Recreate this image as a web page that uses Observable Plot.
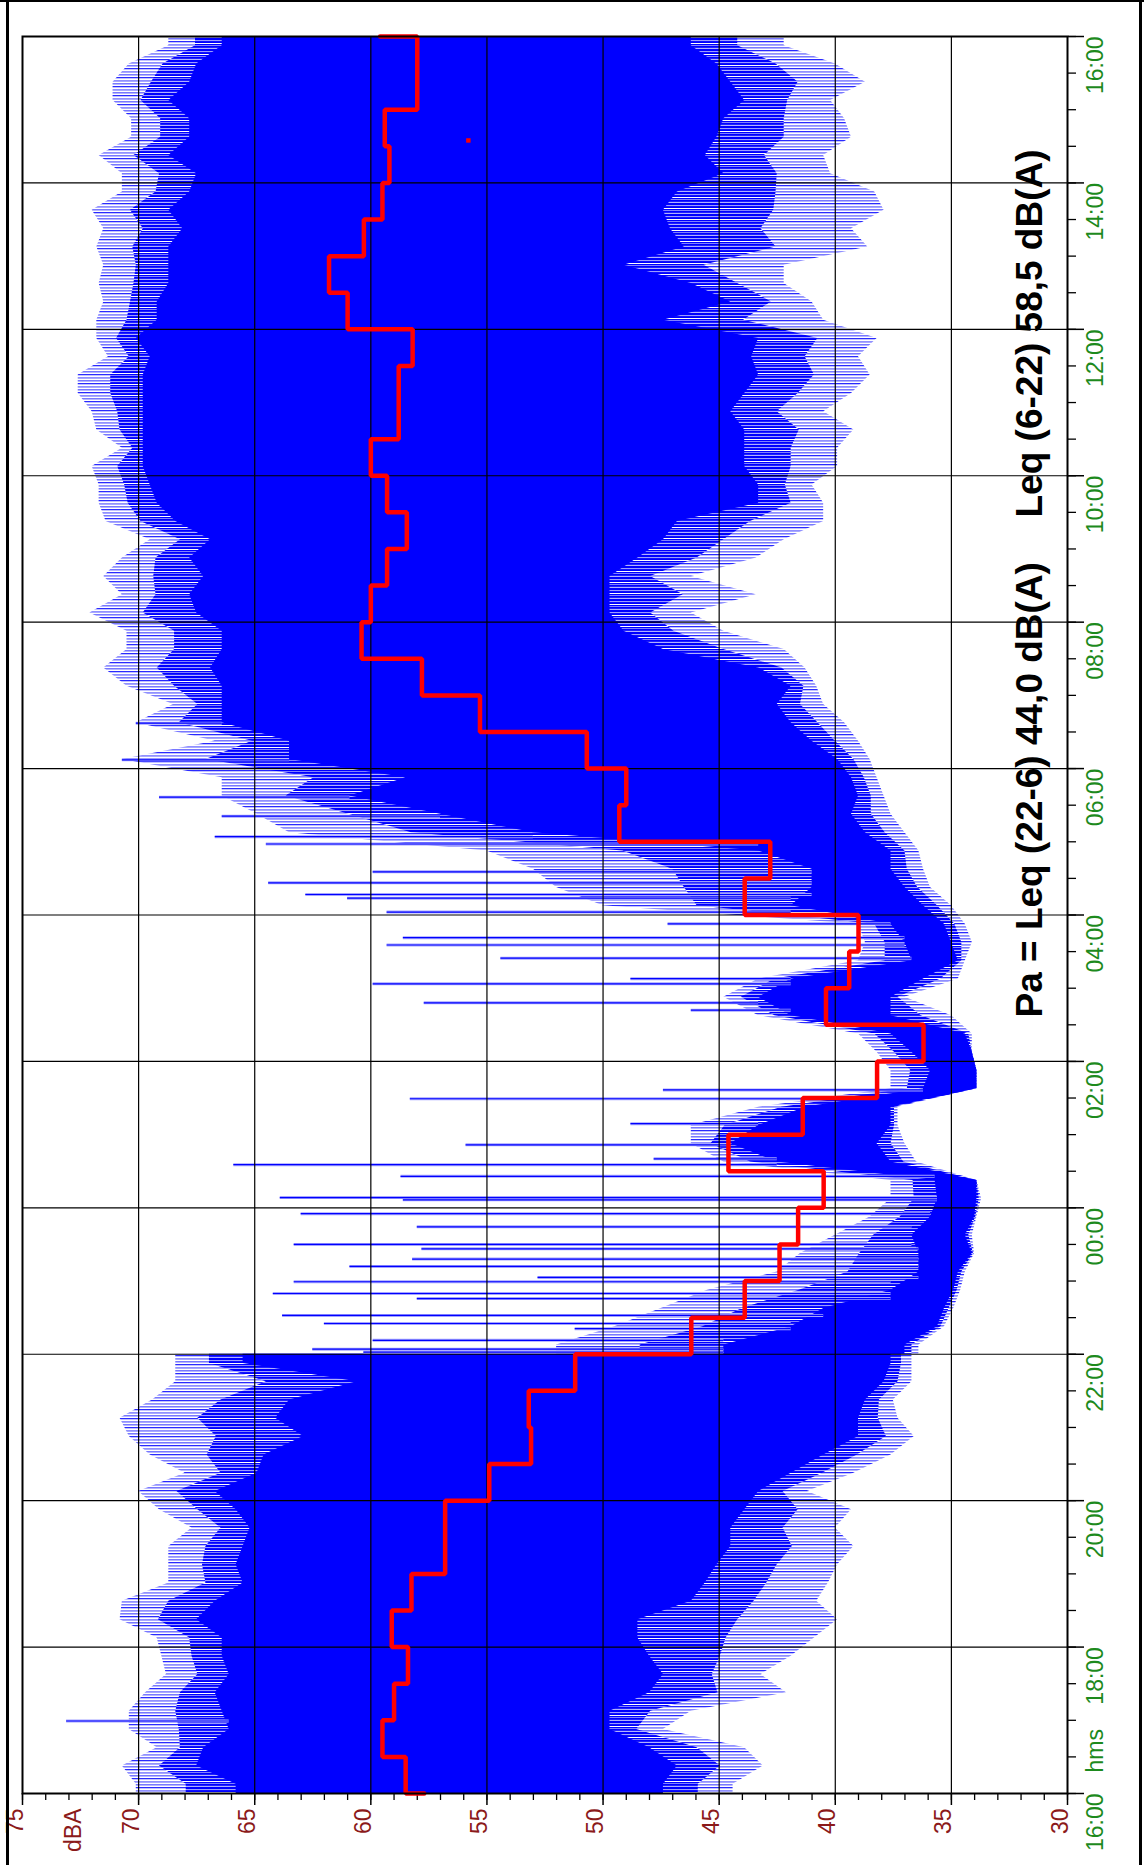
<!DOCTYPE html>
<html><head><meta charset="utf-8">
<script src="https://cdn.jsdelivr.net/npm/d3@7"></script>
<script src="https://cdn.jsdelivr.net/npm/@observablehq/plot@0.6"></script>
<style>
html,body{margin:0;padding:0;background:#fff;}
#wrap{position:relative;width:1144px;height:1865px;overflow:hidden;background:#fff;}
#chart{position:absolute;left:0;top:0;}
.b{position:absolute;background:#000;}
</style></head><body>
<div id="wrap">
<div id="chart"></div>
<div class="b" style="left:0;top:0;width:1144px;height:2px"></div>
<div class="b" style="left:6px;top:0;width:3px;height:1865px"></div>
<div class="b" style="left:1139px;top:0;width:3px;height:1865px"></div>
</div>
<script>
// ---- data (hours since 16:00, dB(A)) ----
// sample grid: start edge, centres of 15-minute bins, end edge
const sampleTimes = [0, ...d3.range(96).map(i => i * 0.25 + 0.125), 24];

// outer extent of the trace (highest level reached)
const outerHi = [70.1,
 70.1, 70.7, 69.2, 70.4, 70.4, 69.7, 68.8, 69.0, 69.2, 70.8, 70.7, 68.7, 68.7, 68.7, 67.7, 69.1,
 70.0, 68.0, 69.5, 70.4, 70.8, 69.4, 68.4, 68.4,
 52.0, 49.5, 47.5, 45.5, 42.5, 41.5, 40.0, 38.5,
 37.6, 37.6, 44.8, 46.2, 46.2, 43.3, 37.6, 37.6,
 38.2, 39.0, 43.3, 44.8, 43.3, 39.0, 38.7, 39.0,
 50.0, 52.0, 53.0, 55.0, 63.5, 64.9, 66.4, 66.4,
 70.7, 66.7, 70.1, 68.5, 70.5, 71.5, 70.5, 70.5,
 72.1, 70.7, 71.5, 70.7, 69.5, 71.4, 71.7, 71.7,
 72.0, 70.7, 71.8, 72.0, 72.6, 72.6, 71.3, 71.8,
 71.8, 71.5, 71.7, 71.5, 71.8, 71.5, 72.0, 70.7,
 70.7, 71.7, 70.3, 70.3, 71.1, 71.1, 70.4, 68.7,
 68.7];
// dense core, upper edge
const coreHi = [65.8,
 65.8, 67.5, 67.2, 66.1, 66.4, 66.7, 66.1, 66.4, 66.4, 67.5, 66.7, 65.5, 65.8, 65.5, 65.2, 65.8,
 66.7, 64.9, 64.6, 62.9, 64.1, 63.5, 60.6, 65.5,
 44.8, 41.9, 40.5, 37.6, 36.4, 36.4, 36.7, 35.9,
 35.6, 35.7, 42.5, 44.5, 43.3, 41.3, 36.2, 35.9,
 36.7, 37.6, 41.9, 43.3, 41.9, 36.7, 37.0, 37.6,
 41.9, 41.0, 41.0, 43.3, 53.0, 57.0, 60.9, 58.5,
 63.5, 63.5, 66.4, 66.4, 66.4, 66.9, 66.4, 66.4,
 67.5, 67.8, 67.2, 67.8, 66.9, 68.4, 69.2, 69.5,
 69.8, 69.8, 69.8, 69.8, 69.8, 69.8, 69.5, 70.1,
 69.2, 69.2, 68.7, 68.7, 68.7, 68.1, 68.7, 67.8,
 67.5, 68.7, 67.8, 67.8, 68.7, 67.8, 67.5, 66.4,
 66.4];
// dense core, lower edge
const coreLo = [47.4,
 47.4, 46.8, 48.0, 49.7, 49.7, 48.0, 47.4, 48.0, 48.5, 48.5, 46.2, 45.6, 45.1, 44.5, 44.5, 43.9,
 43.3, 41.9, 40.5, 39.0, 39.0, 38.7, 37.9, 37.6,
 37.0, 35.6, 35.3, 34.9, 34.7, 34.1, 34.4, 34.0,
 33.9, 33.9, 37.6, 38.2, 37.6, 37.6, 33.9, 33.9,
 34.1, 34.4, 37.6, 37.6, 36.2, 34.7, 35.0, 35.3,
 36.2, 37.0, 37.6, 37.6, 38.7, 39.3, 39.0, 39.3,
 39.9, 41.0, 41.9, 42.5, 41.9, 43.3, 47.4, 49.1,
 49.7, 49.7, 49.7, 48.5, 47.4, 46.8, 43.3, 43.3,
 43.9, 43.9, 43.9, 44.5, 43.9, 43.3, 43.6, 43.3,
 47.4, 44.5, 46.2, 49.1, 46.5, 47.1, 47.4, 46.8,
 44.8, 45.6, 45.1, 44.8, 43.9, 44.5, 45.1, 46.2,
 46.2];
// outer extent of the trace (lowest level reached)
const outerLo = [44.4,
 44.4, 43.1, 43.9, 47.4, 46.2, 42.1, 43.2, 41.9, 40.9, 39.9, 40.8, 40.3, 39.9, 39.2, 40.0, 39.3,
 41.2, 39.2, 37.6, 36.6, 37.3, 37.5, 36.7, 36.7,
 36.4, 35.3, 34.9, 34.6, 34.4, 34.0, 34.1, 33.9,
 33.7, 33.9, 36.5, 37.0, 37.3, 37.3, 33.9, 33.9,
 34.1, 34.1, 35.0, 37.0, 34.7, 34.4, 34.1, 34.4,
 35.0, 35.9, 36.2, 36.4, 37.0, 37.6, 37.9, 38.2,
 38.5, 39.0, 39.6, 40.5, 40.8, 41.3, 42.2, 44.8,
 46.2, 43.4, 46.2, 43.4, 42.2, 40.5, 40.5, 41.0,
 39.9, 39.9, 39.2, 40.5, 39.3, 38.5, 39.0, 38.2,
 40.5, 41.0, 42.2, 42.2, 38.6, 39.3, 37.9, 38.3,
 40.2, 40.5, 39.3, 39.6, 40.2, 38.7, 40.0, 42.2,
 42.2];
// the trace changes abruptly at 22:00 (t = 6)
const nightStart = 6;

// isolated loud events (time, peak level)
const spikeTimes = [0.99, 6.03, 6.07, 6.19, 6.35, 6.42, 6.53, 6.76, 6.83, 6.99, 7.05, 7.20, 7.30, 7.44, 7.50, 7.74, 7.92,
  8.11, 8.14, 8.43, 8.59, 8.67, 8.86, 9.15, 9.49, 9.61, 10.70, 10.80, 11.06, 11.13, 11.41, 11.59, 11.69, 11.88,
  12.04, 12.23, 12.28, 12.44, 12.59, 12.97, 13.07, 13.35, 13.61, 14.12, 14.62];
const spikeLevels = [73.1, 60.3, 62.5, 59.9, 51.2, 62.0, 63.8, 58.0, 64.2, 63.3, 52.8, 60.9, 58.2, 57.8, 63.3, 58.0, 63.0,
  58.6, 63.9, 58.7, 65.9, 47.8, 55.9, 48.8, 58.3, 47.4, 46.2, 57.7, 59.9, 48.8, 54.4, 59.3, 58.6, 47.2,
  59.3, 61.0, 62.8, 64.4, 59.9, 64.5, 66.7, 66.4, 69.1, 70.7, 70.1];

// half-hourly Leq (red step line)
const leqTimes = d3.range(0, 24, 0.5);
const leqValues = [58.5, 59.5, 59.0, 58.4, 59.1, 58.25, 56.8, 56.8, 54.9, 53.1, 53.2, 51.2,
  46.2, 43.9, 42.4, 41.6, 40.5, 44.6, 41.4, 38.2, 36.2, 40.4, 39.4, 39.0,
  43.9, 42.8, 49.3, 49.0, 50.7, 55.3, 57.8, 60.4, 60.0, 59.3, 58.45, 59.3,
  60.0, 58.8, 58.8, 58.2, 61.0, 61.8, 60.3, 59.5, 59.2, 59.4, 58.0, 58.0];
const leqStart = 57.7, leqEnd = 59.6;
const markerT = [22.58], markerDb = [55.8];

// axes
const dbTicks = [75, 70, 65, 60, 55, 50, 45, 40, 35, 30];
const dbGrid = [70, 65, 60, 55, 50, 45, 40, 35];
const dbMinor = d3.range(30, 76, 1);
const timeTicks = [0, 2, 4, 6, 8, 10, 12, 14, 16, 18, 20, 22, 24];
const timeLabels = ["16:00", "18:00", "20:00", "22:00", "00:00", "02:00", "04:00", "06:00", "08:00", "10:00", "12:00", "14:00", "16:00"];
const timeMinor = d3.range(0, 24.01, 0.5);
const titleParts = ["Pa = Leq (22-6) 44,0 dB(A)", "Leq (6-22) 58,5 dB(A)"];

// ---- build ----
const samples = sampleTimes.map((t, i) => ({
  t, outerHi: outerHi[i], coreHi: coreHi[i], coreLo: coreLo[i], outerLo: outerLo[i],
  midHi: (outerHi[i] + coreHi[i]) / 2, midLo: (outerLo[i] + coreLo[i]) / 2
}));
// hold the last evening reading and the first night reading up to the 22:00 boundary
const k = samples.findIndex(d => d.t > nightStart);
samples.splice(k, 0, {...samples[k - 1], t: nightStart}, {...samples[k], t: nightStart});

const bis = d3.bisector(d => d.t).center;
const spikes = spikeTimes.map((t, i) => ({t, db: spikeLevels[i], base: samples[bis(samples, t)].coreHi}));
const leqPath = [{t: 0, v: leqStart}];
leqTimes.forEach((t, i) => { leqPath.push({t, v: leqValues[i]}, {t: t + 0.5, v: leqValues[i]}); });
leqPath.push({t: 24, v: leqEnd});

const RED = "#8b1a1a", GREEN = "#1d8a1d";
const LABEL_FONT = "'Liberation Sans', Arial, sans-serif";

const chart = Plot.plot({
  width: 1144, height: 1865,
  marginLeft: 22, marginRight: 77, marginTop: 36, marginBottom: 72,
  style: {fontFamily: LABEL_FONT, background: "white", overflow: "visible"},
  x: {domain: [75, 30]},
  y: {domain: [0, 24]},
  marks: [
    Plot.areaX(samples, {y: "t", x1: "outerLo", x2: "outerHi", fill: "#010101"}),
    Plot.areaX(samples, {y: "t", x1: "midLo", x2: "midHi", fill: "#020202"}),
    Plot.areaX(samples, {y: "t", x1: "coreLo", x2: "coreHi", fill: "#0000ff"}),
    Plot.ruleY(spikes, {y: "t", x1: "base", x2: "db", stroke: "#a4a4ff", strokeWidth: 3}),
    Plot.ruleY(spikes, {y: "t", x1: "base", x2: "db", stroke: "#0000ff", strokeWidth: 1.2}),
    Plot.ruleX(dbGrid, {stroke: "#000", strokeWidth: 1.2}),
    Plot.ruleY(timeTicks.slice(1, -1), {stroke: "#000", strokeWidth: 1.2}),
    Plot.axisX({anchor: "bottom", ticks: dbMinor, tickSize: 7, tickFormat: () => "", label: null, strokeWidth: 1.3}),
    Plot.axisX({anchor: "bottom", ticks: dbTicks, tickSize: 12, tickFormat: () => "", label: null, strokeWidth: 1.5}),
    Plot.axisY({anchor: "right", ticks: timeMinor, tickSize: 8, tickFormat: () => "", label: null, strokeWidth: 1.3}),
    Plot.axisY({anchor: "right", ticks: timeTicks, tickSize: 16, tickFormat: () => "", label: null, strokeWidth: 1.5}),
    Plot.line(leqPath, {x: "v", y: "t", stroke: "#ff0000", strokeWidth: 4.5, strokeLinejoin: "miter"}),
    Plot.dot(markerT, {y: d => d, x: (d, i) => markerDb[i], symbol: "square", r: 2.5, fill: "#ff0000"}),
    Plot.frame({stroke: "#000", strokeWidth: 2}),
    Plot.text(dbTicks, {x: d => d, frameAnchor: "bottom", text: d => String(d), rotate: -90, textAnchor: "end", dy: 15, fill: RED, fontSize: 23, fontFamily: LABEL_FONT}),
    Plot.text(["dBA"], {x: 72.5, frameAnchor: "bottom", text: d => d, rotate: -90, textAnchor: "end", dy: 15, fill: RED, fontSize: 23, fontFamily: LABEL_FONT}),
    Plot.text(timeTicks, {y: d => d, frameAnchor: "right", text: (d, i) => timeLabels[i], rotate: -90, dx: 28, fill: GREEN, fontSize: 23, fontFamily: LABEL_FONT}),
    Plot.text(["hms"], {y: 0.88, frameAnchor: "right", text: d => d, rotate: -90, dx: 28, fill: GREEN, fontSize: 23, fontFamily: LABEL_FONT}),
    Plot.text([titleParts[0]], {x: 31.6, y: 10.6, text: d => d, rotate: -90, textAnchor: "start", fontSize: 37, fontWeight: "bold", fill: "#000"}),
    Plot.text([titleParts[1]], {x: 31.6, y: 17.43, text: d => d, rotate: -90, textAnchor: "start", fontSize: 37, fontWeight: "bold", fill: "#000"})
  ]
});

// streaky fills for the fringes of the trace
const svg = d3.select(chart);
const defs = svg.insert("defs", ":first-child");
function addPattern(id, rows) {
  const p = defs.append("pattern").attr("id", id).attr("patternUnits", "userSpaceOnUse")
    .attr("width", 8).attr("height", rows.length);
  rows.forEach((c, i) => p.append("rect").attr("x", 0).attr("y", i).attr("width", 8).attr("height", 1).attr("fill", c));
}
addPattern("fringeOuter", ["#a8a8ff", "#ffffff", "#7878ff", "#b4b4ff", "#ffffff", "#2a2aff", "#c0c0ff", "#ffffff", "#9090ff"]);
addPattern("fringeInner", ["#0000ff", "#8080ff", "#0000ff", "#2020ff", "#b0b0ff", "#0000ff", "#0000ff", "#9c9cff", "#1010ff", "#0000ff", "#ffffff"]);
svg.selectAll('[fill="#010101"]').attr("fill", "url(#fringeOuter)");
svg.selectAll('[fill="#020202"]').attr("fill", "url(#fringeInner)");

document.getElementById("chart").appendChild(chart);
</script>
</body></html>
